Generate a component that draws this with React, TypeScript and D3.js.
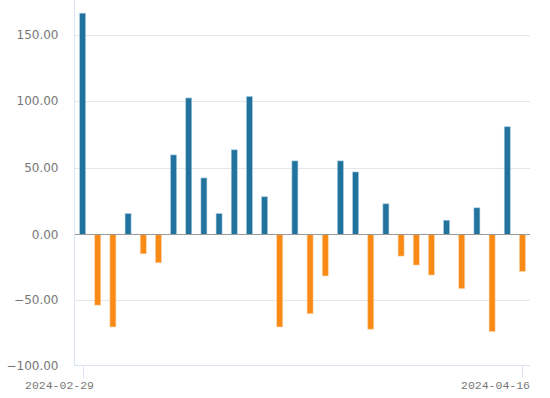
import * as d3 from "d3";

const dates = [
  "2024-02-29", "2024-03-01", "2024-03-04", "2024-03-05", "2024-03-06",
  "2024-03-07", "2024-03-08", "2024-03-11", "2024-03-12", "2024-03-13",
  "2024-03-14", "2024-03-15", "2024-03-18", "2024-03-19", "2024-03-20",
  "2024-03-21", "2024-03-22", "2024-03-25", "2024-03-26", "2024-03-27",
  "2024-03-28", "2024-04-02", "2024-04-03", "2024-04-08", "2024-04-09",
  "2024-04-10", "2024-04-11", "2024-04-12", "2024-04-15", "2024-04-16",
];

const values = [
  166, -53.7, -70.3, 15.7, -14.7, -21.5, 59.7, 102.4, 42.4, 15.7,
  63.5, 103.5, 28.3, -70.3, 55.2, -60.2, -31.5, 55.2, 46.9, -72,
  23, -16.4, -23.2, -30.8, 10.7, -41.1, 20, -73.8, 80.8, -28,
];

const yTicks = [-100, -50, 0, 50, 100, 150];
const xLabels = ["2024-02-29", "2024-04-16"];

const W = 550;
const H = 398;
const left = 75;
const right = 530;

export default function App() {
  const x = d3.scaleBand<string>().domain(dates).range([left, right]);
  // slight difference between the positive and negative halves in the original
  const y = d3.scaleLinear().domain([-100, 0, 150]).range([366, 234.5, 34.5]);
  const barW = 6;
  const fmt = d3.format(".2f");

  return (
    <svg
      width={W}
      height={H}
      style={{ position: "absolute", left: 0, top: 0 }}
    >
      {yTicks
        .filter((t) => t !== 0 && t !== -100)
        .map((t) => (
          <line
            key={t}
            x1={left}
            x2={right}
            y1={Math.round(y(t)) + 0.5}
            y2={Math.round(y(t)) + 0.5}
            stroke="#e6e6e6"
          />
        ))}
      {yTicks.map((t) => (
        <text
          key={"l" + t}
          x={58.5}
          y={y(t)}
          dy="0.35em"
          textAnchor="end"
          fill="#777"
          style={{ font: "12px 'DejaVu Sans'" }}
        >
          {fmt(t)}
        </text>
      ))}
      {values.map((v, i) => {
        const cx = x(dates[i])! + x.bandwidth() / 2;
        const y0 = y(0);
        const y1 = y(v);
        return (
          <rect
            key={i}
            x={cx - barW / 2}
            y={Math.min(y0, y1)}
            width={barW}
            height={Math.abs(y1 - y0)}
            fill={v >= 0 ? "#21739e" : "#f98a16"}
            stroke={v >= 0 ? "#a8cbe0" : "#fcd0a4"}
            strokeWidth={0.6}
          />
        );
      })}
      <line
        x1={left}
        x2={right}
        y1={234.5}
        y2={234.5}
        stroke="#9a9a9a"
        strokeWidth={1}
      />
      <line x1={left - 0.5} x2={left - 0.5} y1={0} y2={366} stroke="#dce3f3" />
      <line x1={left} x2={right} y1={365.5} y2={365.5} stroke="#dce3f3" />
      {xLabels.map((d, i) => {
        const cx = x(d)! + x.bandwidth() / 2;
        return (
          <g key={d}>
            <line
              x1={Math.round(cx) + 0.5}
              x2={Math.round(cx) + 0.5}
              y1={366}
              y2={378}
              stroke="#dce3f3"
            />
            <text
              x={i === 0 ? 94 : 530}
              y={389}
              textAnchor="end"
              fill="#777"
              style={{ font: "11.5px 'Liberation Mono'" }}
            >
              {d}
            </text>
          </g>
        );
      })}
    </svg>
  );
}
